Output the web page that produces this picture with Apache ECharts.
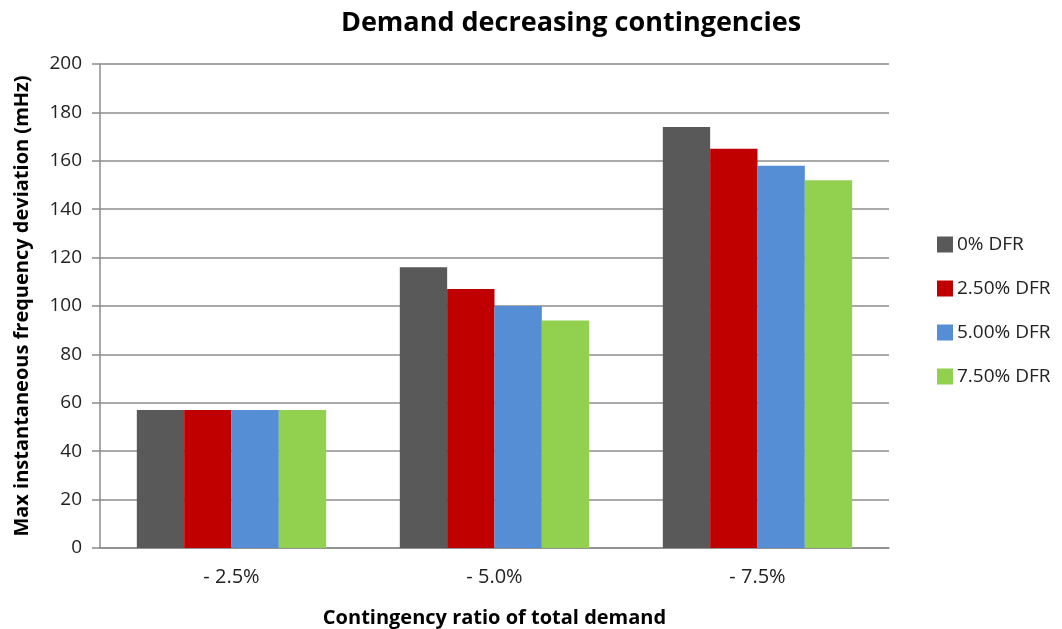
<!DOCTYPE html>
<html>
<head>
<meta charset="utf-8">
<script src="https://cdn.jsdelivr.net/npm/echarts@6/dist/echarts.min.js"></script>
<style>
    html, body { margin: 0; padding: 0; background: #fff; }
    #report { width: 1062px; height: 629px; }
</style>
</head>
<body>
<div id="report"></div>
<script type="text/javascript">
    // categories and series values
    var categories = ['- 2.5%', '- 5.0%', '- 7.5%'];
    var seriesNames = ['0% DFR', '2.50% DFR', '5.00% DFR', '7.50% DFR'];
    var dfr0 = [57, 116, 174];
    var dfr250 = [57, 107, 165];
    var dfr500 = [57, 100, 158];
    var dfr750 = [57, 94, 152];
    var colors = ['#595959', '#c00000', '#558ed5', '#92d050'];

    var fontName = '"Open Sans", "DejaVu Sans", sans-serif';
    var allData = [dfr0, dfr250, dfr500, dfr750];

    var series = [];
    for (var i = 0; i < seriesNames.length; i++) {
        series.push({
            name: seriesNames[i],
            type: 'bar',
            barGap: '0%',
            barCategoryGap: '28%',
            itemStyle: { color: colors[i] },
            data: allData[i]
        });
    }

    var option = {
        animation: false,
        title: {
            text: 'Demand decreasing contingencies',
            left: 566,
            top: 5,
            textAlign: 'center',
            textStyle: { fontFamily: fontName, fontSize: 27, fontWeight: 'bold', color: '#000' }
        },
        legend: {
            orient: 'vertical',
            left: 932,
            top: 230,
            itemWidth: 16,
            itemHeight: 16,
            itemGap: 25,
            icon: 'rect',
            textStyle: { fontFamily: fontName, fontSize: 19, color: '#222', padding: [0, 0, 0, -1] },
            data: seriesNames
        },
        grid: {
            left: 100,
            right: 173,
            top: 64,
            bottom: 81,
            containLabel: false,
            outerBoundsMode: 'none'
        },
        xAxis: {
            type: 'category',
            data: categories,
            name: 'Contingency ratio of total demand',
            nameLocation: 'center',
            nameGap: 60,
            nameTextStyle: { fontFamily: fontName, fontSize: 20, fontWeight: 'bold', color: '#000' },
            axisLine: { lineStyle: { color: '#8c8c8c', width: 1.5 } },
            axisTick: { show: false },
            axisLabel: { fontFamily: fontName, fontSize: 20, color: '#222', margin: 19 }
        },
        yAxis: {
            type: 'value',
            min: 0,
            max: 200,
            interval: 20,
            name: 'Max instantaneous frequency deviation (mHz)',
            nameLocation: 'center',
            nameGap: 68,
            nameTextStyle: { fontFamily: fontName, fontSize: 20, fontWeight: 'bold', color: '#000' },
            axisLine: { show: true, lineStyle: { color: '#8c8c8c', width: 1.5 } },
            axisTick: { show: true, length: 8, lineStyle: { color: '#8c8c8c', width: 1.5 } },
            axisLabel: { fontFamily: fontName, fontSize: 19, color: '#222', margin: 18 },
            splitLine: { lineStyle: { color: '#8c8c8c', width: 1.5 } }
        },
        series: series
    };

    var myChart = echarts.init(document.getElementById('report'));
    myChart.setOption(option);
</script>
</body>
</html>
